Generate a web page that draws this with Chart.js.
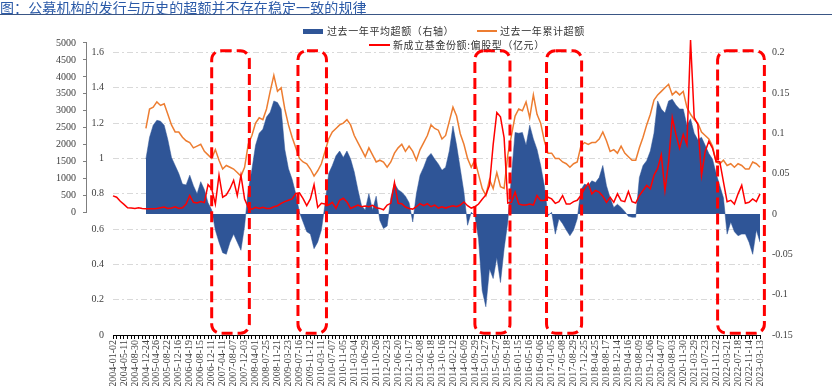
<!DOCTYPE html>
<html>
<head>
<meta charset="utf-8">
<script src="https://cdn.jsdelivr.net/npm/chart.js@4.4.1/dist/chart.umd.min.js"></script>
<style>
html, body { margin: 0; padding: 0; background: #fff; }
#wrap { position: relative; width: 832px; height: 386px; overflow: hidden; }
#title { position: absolute; left: 0; top: -3px; font-family: "Noto Sans CJK SC"; font-size: 14px; letter-spacing: 0.1px; color: #2b5aa8; white-space: nowrap; }
#rule { position: absolute; left: 0; top: 14px; width: 832px; border-top: 1.5px solid #3a5685; }
.lg { position: absolute; font-family: "Noto Sans CJK SC"; font-size: 10px; color: #333; letter-spacing: 0.6px; white-space: nowrap; line-height: 12px; }
.sw { position: absolute; }
canvas { position: absolute; left: 0; top: 0; }
</style>
</head>
<body>
<div id="wrap">
  <canvas id="c" width="832" height="386"></canvas>
  <div id="title">图：公募机构的发行与历史的超额并不存在稳定一致的规律</div>
  <div id="rule"></div>
  <div class="sw" style="left:303px;top:29px;width:20px;height:5px;background:#2f5597"></div>
  <div class="lg" style="left:327px;top:25px">过去一年平均超额（右轴）</div>
  <div class="sw" style="left:477px;top:30px;width:20px;height:2px;background:#ed7d31"></div>
  <div class="lg" style="left:500px;top:25px">过去一年累计超额</div>
  <div class="sw" style="left:369px;top:44px;width:21px;height:2px;background:#ff0000"></div>
  <div class="lg" style="left:393px;top:39px">新成立基金份额:偏股型（亿元）</div>
</div>
<script>
// axis labels, one every 3 data points
var dateLabels = ['2004-01-02','2004-05-11','2004-08-30','2004-12-24','2005-04-26','2005-08-22','2005-12-16','2006-04-19','2006-08-15','2006-12-11',
  '2007-04-11','2007-08-07','2007-12-03','2008-04-01','2008-07-25','2008-11-21','2009-03-23','2009-07-16','2009-11-12','2010-03-11',
  '2010-07-07','2010-11-05','2011-03-04','2011-06-29','2011-10-26','2012-02-23','2012-06-20','2012-10-17','2013-02-08','2013-06-18',
  '2013-10-16','2014-02-12','2014-06-09','2014-09-29','2015-01-27','2015-05-27','2015-09-18','2016-01-15','2016-05-16','2016-09-06',
  '2017-01-05','2017-05-08','2017-08-29','2017-12-25','2018-04-25','2018-08-17','2018-12-14','2019-04-16','2019-08-09','2019-12-06',
  '2020-04-07','2020-08-03','2020-11-30','2021-03-29','2021-07-23','2021-11-22','2022-03-21','2022-07-18','2022-11-14','2023-03-13'];

// 新成立基金份额:偏股型 (亿元), left outer axis
var newFundShares = [490,450,330,240,140,130,120,140,120,
  110,110,110,120,140,160,120,130,170,120,140,250,500,300,280,320,290,820,700,250,1100,450,520,700,950,500,1100,400,150,100,150,120,150,120,
  120,170,200,270,320,360,400,560,580,410,200,400,820,150,270,250,220,300,120,360,420,310,120,170,220,170,190,170,210,140,120,80,220,270,880,270,260,160,120,100,170,260,200,260,170,220,130,170,
  130,170,200,170,220,310,200,130,170,250,390,520,800,2000,2950,2820,2200,280,300,600,250,220,220,250,220,500,350,350,450,400,270,320,500,250,250,320,360,500,700,860,550,650,600,480,300,
  450,300,550,350,320,620,320,280,500,650,800,700,1100,1300,1700,650,1500,2800,2300,1900,2300,2000,5090,2800,2600,1100,1800,2100,1900,1500,1500,900,320,360,250,550,800,270,300,400,320,550];

// 过去一年累计超额, left inner axis
var cumExcess = [null,null,null,null,null,null,null,null,null,
  1.17,1.28,1.29,1.32,1.30,1.31,1.25,1.19,1.15,1.15,1.12,1.10,1.09,1.06,1.07,1.08,1.04,1.02,1.00,1.05,0.99,0.94,0.96,0.95,0.94,0.92,0.90,0.95,1.08,1.13,1.20,1.23,1.22,1.28,
  1.38,1.47,1.38,1.40,1.28,1.19,1.12,1.06,1.00,0.98,0.97,0.94,0.90,0.93,0.97,1.04,1.11,1.15,1.17,1.19,1.20,1.22,1.19,1.13,1.09,1.05,1.01,1.06,1.02,0.98,0.99,0.98,0.95,0.98,1.03,1.06,1.08,1.04,1.07,1.04,0.99,1.05,1.09,1.13,1.19,1.17,1.16,1.11,
  1.13,1.21,1.29,1.24,1.14,1.08,1.00,0.95,0.99,0.91,0.83,0.79,0.88,0.83,0.92,0.84,0.83,1.02,1.13,1.24,1.28,1.27,1.32,1.23,1.36,1.25,1.20,1.10,1.03,1.03,1.00,1.00,0.98,0.97,0.95,0.97,0.98,1.07,1.09,1.08,1.09,1.09,1.11,1.15,1.10,
  1.04,1.05,1.03,1.07,1.03,1.01,0.99,0.99,1.06,1.12,1.19,1.25,1.33,1.36,1.38,1.40,1.42,1.36,1.38,1.36,1.38,1.29,1.25,1.22,1.20,1.15,1.13,1.11,1.07,0.98,0.97,0.99,0.96,0.97,0.95,0.97,0.96,0.94,0.94,0.98,0.97,0.95];

// 过去一年平均超额, right axis
var avgExcess = [null,null,null,null,null,null,null,null,null,
  0.068,0.095,0.11,0.116,0.115,0.11,0.092,0.07,0.06,0.05,0.037,0.036,0.048,0.035,0.025,0.04,0.03,0.014,0.005,-0.02,-0.035,-0.048,-0.05,-0.035,-0.025,-0.035,-0.045,-0.015,0.03,0.055,0.085,0.1,0.105,0.12,
  0.126,0.14,0.138,0.13,0.08,0.056,0.043,0.025,0.002,-0.01,-0.022,-0.025,-0.043,-0.035,-0.02,0.012,0.05,0.06,0.072,0.078,0.07,0.078,0.068,0.052,0.03,0.01,0.005,0.025,0.005,0.022,-0.008,-0.018,-0.015,0.02,0.038,0.03,0.027,0.022,0.014,-0.01,0.025,0.048,0.058,0.07,0.075,0.068,0.062,
  0.054,0.058,0.078,0.109,0.085,0.056,0.027,-0.014,0.002,-0.002,-0.031,-0.095,-0.115,-0.068,-0.08,-0.054,-0.085,-0.043,-0.01,0.047,0.101,0.1,0.101,0.085,0.11,0.093,0.08,0.06,0.035,-0.002,0.002,-0.025,-0.006,-0.012,-0.02,-0.027,-0.02,-0.006,0.03,0.037,0.035,0.041,0.039,0.045,0.06,0.035,0.02,
  0.008,0.012,0.008,0.003,-0.003,-0.004,-0.004,0.045,0.06,0.066,0.078,0.1,0.14,0.13,0.125,0.14,0.142,0.135,0.13,0.13,0.11,0.118,0.1,0.092,0.095,0.085,0.075,0.068,0.05,0.035,0.02,-0.025,-0.01,-0.022,-0.027,-0.025,-0.025,-0.035,-0.05,-0.02,-0.035];

// tick values and labels for the three value axes
var redTicks = [0,500,1000,1500,2000,2500,3000,3500,4000,4500,5000];
var innerTicks = [0,0.2,0.4,0.6,0.8,1,1.2,1.4,1.6];
var innerTickLabels = ['0','0.2','0.4','0.6','0.8','1','1.2','1.4','1.6'];
var rightTicks = [-0.15,-0.1,-0.05,0,0.05,0.1,0.15,0.2];
var rightTickLabels = ['-0.15','-0.1','-0.05','0','0.05','0.1','0.15','0.2'];

// highlighted periods (in data-point index units) and their vertical span on the inner axis
var highlightFrom = [27.0, 50.6, 99.0, 118.6, 165.4];
var highlightTo = [37.3, 58.4, 108.6, 128.2, 178.2];
var highlightTop = 1.61;
var highlightBottom = 0.01;

var pointsPerLabel = 3;
var labels = newFundShares.map(function(v, i) {
    return i % pointsPerLabel === 0 ? dateLabels[i / pointsPerLabel] : '';
});

var tickFont = { family: 'Liberation Serif', size: 10 };
var tickColor = '#404040';

// Red dashed rounded boxes over chosen periods
var highlightPlugin = {
    id: 'highlightBoxes',
    afterDatasetsDraw: function(chart) {
        var xs = chart.scales.x, ys = chart.scales.yInner, ctx = chart.ctx;
        var x0 = xs.getPixelForValue(0);
        var step = xs.getPixelForValue(1) - x0;
        var t = ys.getPixelForValue(highlightTop), b = ys.getPixelForValue(highlightBottom);
        ctx.save();
        ctx.strokeStyle = '#ff0000';
        ctx.lineWidth = 3;
        ctx.setLineDash([11, 5]);
        highlightFrom.forEach(function(f, k) {
            var l = x0 + f * step, r = x0 + highlightTo[k] * step;
            ctx.beginPath();
            ctx.roundRect(l, t, r - l, b - t, 9);
            ctx.stroke();
        });
        ctx.restore();
    }
};

// Short axis line for the outer left axis (only spans its tick range)
var redAxisLine = {
    id: 'redAxisLine',
    afterDraw: function(chart) {
        var s = chart.scales.yRed, ctx = chart.ctx;
        var xp = Math.round(s.right) - 0.5;
        ctx.save();
        ctx.strokeStyle = '#7f7f7f';
        ctx.lineWidth = 1;
        ctx.beginPath();
        ctx.moveTo(xp, s.getPixelForValue(redTicks[0]));
        ctx.lineTo(xp, s.getPixelForValue(redTicks[redTicks.length - 1]));
        ctx.stroke();
        ctx.restore();
    }
};

new Chart(document.getElementById('c'), {
    type: 'line',
    data: {
        labels: labels,
        datasets: [
            {
                label: '过去一年平均超额（右轴）',
                data: avgExcess,
                yAxisID: 'yRight',
                fill: 'origin',
                backgroundColor: '#2f5597',
                borderColor: '#2f5597',
                borderWidth: 0.5,
                pointRadius: 0,
                order: 3
            },
            {
                label: '过去一年累计超额',
                data: cumExcess,
                yAxisID: 'yInner',
                borderColor: '#ed7d31',
                borderWidth: 1.5,
                pointRadius: 0,
                fill: false,
                order: 2
            },
            {
                label: '新成立基金份额:偏股型（亿元）',
                data: newFundShares,
                yAxisID: 'yRed',
                borderColor: '#ff0000',
                borderWidth: 1.5,
                pointRadius: 0,
                fill: false,
                clip: false,
                order: 1
            }
        ]
    },
    options: {
        responsive: false,
        animation: false,
        layout: { padding: { top: 38, left: 0, right: 0, bottom: 0 } },
        plugins: {
            legend: { display: false },
            tooltip: { enabled: false }
        },
        scales: {
            x: {
                type: 'category',
                grid: { drawOnChartArea: false, drawTicks: true, tickLength: 4, tickColor: '#000' },
                border: { display: true, color: '#000', width: 1 },
                ticks: { autoSkip: false, minRotation: 90, maxRotation: 90, padding: 1, font: tickFont, color: tickColor },
                afterFit: function(s) { s.height = 51; }
            },
            yInner: {
                position: 'left',
                weight: 0,
                min: 0,
                max: 1.6821,
                afterBuildTicks: function(s) { s.ticks = innerTicks.map(function(v) { return { value: v }; }); },
                ticks: { padding: 9, font: tickFont, color: tickColor, callback: function(v, i) { return innerTickLabels[i]; } },
                grid: {
                    drawTicks: false,
                    lineWidth: 1,
                    color: function(c) { return c.tick && c.tick.value === 0 ? 'rgba(0,0,0,0)' : '#d9d9d9'; }
                },
                border: { display: false, dash: [6, 3, 2, 3] },
                afterFit: function(s) { s.width = 26; }
            },
            yRed: {
                position: 'left',
                weight: 1,
                min: -3614,
                max: 5147,
                afterBuildTicks: function(s) { s.ticks = redTicks.map(function(v) { return { value: v }; }); },
                ticks: { padding: 7, font: tickFont, color: tickColor, callback: function(v) { return String(v); } },
                grid: { drawOnChartArea: false, drawTicks: true, tickLength: 4, tickColor: '#7f7f7f' },
                border: { display: false },
                afterFit: function(s) { s.width = 87; }
            },
            yRight: {
                position: 'right',
                min: -0.15,
                max: 0.218,
                afterBuildTicks: function(s) { s.ticks = rightTicks.map(function(v) { return { value: v }; }); },
                ticks: { padding: 12, font: tickFont, color: tickColor, callback: function(v, i) { return rightTickLabels[i]; } },
                grid: { display: false, drawTicks: false, drawOnChartArea: false },
                border: { display: false },
                afterFit: function(s) { s.width = 72; }
            }
        }
    },
    plugins: [highlightPlugin, redAxisLine]
});
</script>
</body>
</html>
